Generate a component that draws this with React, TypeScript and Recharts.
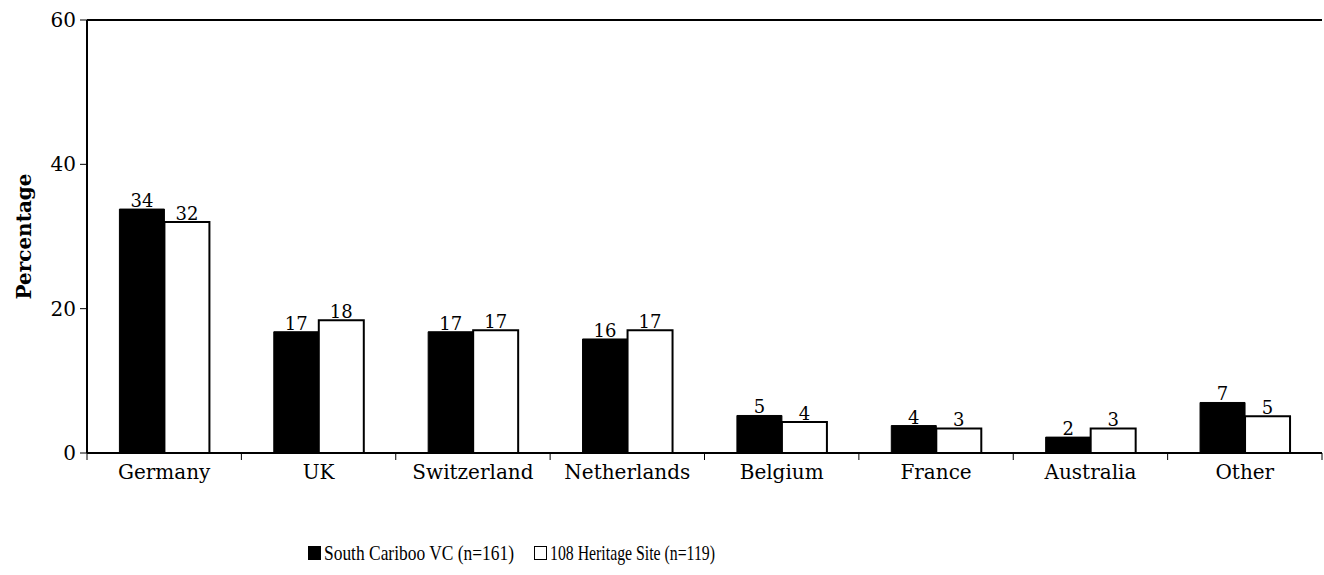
import { Bar, BarChart, CartesianGrid, LabelList, Legend, ReferenceLine, XAxis, YAxis } from 'recharts'

const categories = ['Germany', 'UK', 'Switzerland', 'Netherlands', 'Belgium', 'France', 'Australia', 'Other']
const southCariboo = [33.8, 16.8, 16.8, 15.8, 5.2, 3.8, 2.2, 7.0]
const heritageSite = [32.0, 18.4, 17.0, 17.0, 4.3, 3.4, 3.4, 5.1]
const yTicks = [0, 20, 40, 60]

const seriesNames = {
  south: 'South Cariboo VC (n=161)',
  heritage: '108 Heritage Site (n=119)',
}

const data = categories.map((name, i) => ({ name, south: southCariboo[i], heritage: heritageSite[i] }))

const W = 1324
const H = 575
const margin = { top: 20, right: 2, left: 0, bottom: 0 }
const yAxisWidth = 87
const plotWidth = W - margin.left - margin.right - yAxisWidth
const step = plotWidth / categories.length
const font = '"DejaVu Serif", serif'
const legendFont = '"Liberation Serif", serif'

function CategoryTick(props: any) {
  const { x, y, payload, index } = props
  const left = x - step / 2
  return (
    <g>
      <line x1={left} x2={left} y1={y} y2={y + 7} stroke="#000" strokeWidth={1} />
      {index === categories.length - 1 && (
        <line x1={x + step / 2} x2={x + step / 2} y1={y} y2={y + 7} stroke="#000" strokeWidth={1} />
      )}
      <text x={x} y={y + 11} dy="0.75em" textAnchor="middle" fontSize={20} fontFamily={font} fill="#000">
        {payload.value}
      </text>
    </g>
  )
}

// legend text in the source is narrow, so it is drawn as svg text with a fixed length
function LegendContent() {
  return (
    <svg width={W} height={28} style={{ display: 'block' }}>
      <rect x={308} y={7} width={13} height={14} fill="#000" />
      <text x={324} y={21} fontFamily={legendFont} fontSize={22} fill="#000" textLength={190} lengthAdjust="spacingAndGlyphs">
        {seriesNames.south}
      </text>
      <rect x={534.5} y={7.5} width={12} height={13} fill="#fff" stroke="#000" strokeWidth={1} />
      <text x={550} y={21} fontFamily={legendFont} fontSize={22} fill="#000" textLength={165} lengthAdjust="spacingAndGlyphs">
        {seriesNames.heritage}
      </text>
    </svg>
  )
}

export default function App() {
  return (
    <div style={{ width: W, height: H, background: '#fff' }}>
      <style>{`body{margin:0}`}</style>
      <BarChart
        width={W}
        height={H}
        data={data}
        margin={margin}
        barCategoryGap="21%"
        barGap={0}
      >
        <CartesianGrid vertical={false} stroke="#7f7f7f" strokeWidth={1} />
        <XAxis
          dataKey="name"
          height={94}
          tick={<CategoryTick />}
          tickLine={false}
          tickSize={0}
          tickMargin={0}
          axisLine={{ stroke: '#000', strokeWidth: 2 }}
          interval={0}
        />
        <YAxis
          yAxisId="left"
          width={yAxisWidth}
          domain={[0, 60]}
          ticks={yTicks}
          tickSize={7}
          tickMargin={4}
          axisLine={{ stroke: '#000', strokeWidth: 2 }}
          tickLine={{ stroke: '#000' }}
          tick={{ fill: '#000', fontSize: 20, fontFamily: font }}
          label={{
            value: 'Percentage',
            angle: -90,
            position: 'insideLeft',
            offset: 24,
            style: { textAnchor: 'middle', fontFamily: font, fontSize: 20, fontWeight: 'bold', fill: '#000' },
          }}
        />
        <YAxis
          yAxisId="right"
          orientation="right"
          width={0}
          domain={[0, 60]}
          tick={false}
          tickLine={false}
          axisLine={{ stroke: '#000', strokeWidth: 2 }}
        />
        <ReferenceLine yAxisId="left" y={60} stroke="#000" strokeWidth={2} />
        <Legend verticalAlign="bottom" wrapperStyle={{ bottom: 8, left: 0, width: W }} content={<LegendContent />} />
        <Bar yAxisId="left" dataKey="south" name={seriesNames.south} fill="#000" stroke="#000" strokeWidth={1} isAnimationActive={false}>
          <LabelList dataKey="south" position="top" offset={2} formatter={(v: any) => Math.round(Number(v))} style={{ fontFamily: font, fontSize: 18, fill: '#000' }} />
        </Bar>
        <Bar yAxisId="left" dataKey="heritage" name={seriesNames.heritage} fill="#fff" stroke="#000" strokeWidth={2} isAnimationActive={false}>
          <LabelList dataKey="heritage" position="top" offset={2} formatter={(v: any) => Math.round(Number(v))} style={{ fontFamily: font, fontSize: 18, fill: '#000' }} />
        </Bar>
      </BarChart>
    </div>
  )
}
